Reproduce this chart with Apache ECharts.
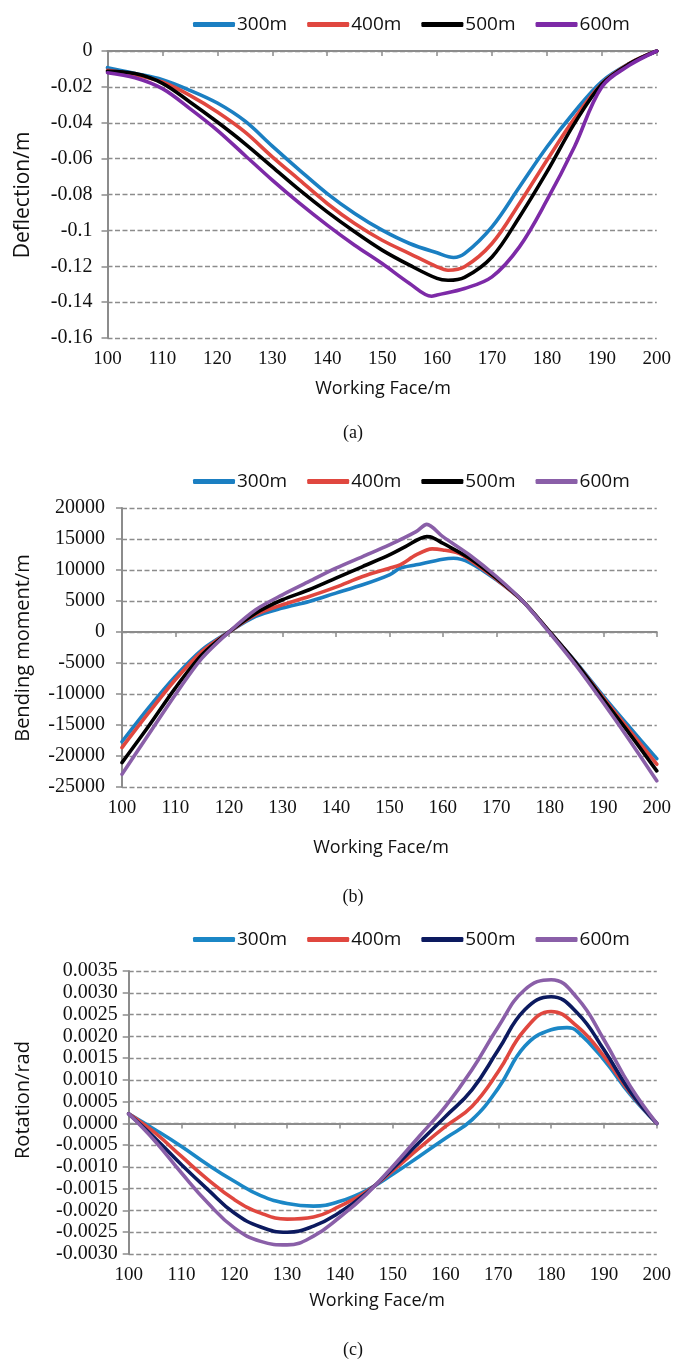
<!DOCTYPE html>
<html>
<head>
<meta charset="utf-8">
<script src="https://cdn.jsdelivr.net/npm/echarts@6/dist/echarts.min.js"></script>
<style>html,body{margin:0;padding:0;background:#fff}#c{width:674px;height:1363px}</style>
</head>
<body>
<div id="c"></div>
<script>
// ---------- DATA ----------
const seriesNames = ['300m', '400m', '500m', '600m'];
const xTicks = [100, 110, 120, 130, 140, 150, 160, 170, 180, 190, 200];

// (a) Deflection / m  — [working face m, deflection m]
const defl300 = [[100,-0.0093],[105,-0.0125],[110,-0.0160],[115,-0.0219],[120,-0.0290],[125,-0.0390],[130,-0.0530],[135,-0.0665],[140,-0.0795],[145,-0.0906],[150,-0.0999],[155,-0.1073],[160,-0.1125],[163,-0.1151],[165,-0.1130],[170,-0.0980],[175,-0.0758],[180,-0.0535],[185,-0.0340],[190,-0.0170],[195,-0.0070],[200,0]];
const defl400 = [[100,-0.0108],[105,-0.0132],[110,-0.0173],[115,-0.0247],[120,-0.0340],[125,-0.0451],[130,-0.0590],[135,-0.0720],[140,-0.0850],[145,-0.0962],[150,-0.1055],[155,-0.1129],[160,-0.1203],[162,-0.1222],[165,-0.1203],[170,-0.1073],[175,-0.0850],[180,-0.0609],[185,-0.0377],[190,-0.0182],[195,-0.0070],[200,0]];
const defl500 = [[100,-0.0113],[105,-0.0126],[110,-0.0180],[115,-0.0284],[120,-0.0396],[125,-0.0516],[130,-0.0646],[135,-0.0776],[140,-0.0897],[145,-0.1008],[150,-0.1110],[155,-0.1194],[160,-0.1268],[162,-0.1278],[165,-0.1262],[170,-0.1148],[175,-0.0925],[180,-0.0674],[185,-0.0405],[190,-0.0185],[195,-0.0072],[200,0]];
const defl600 = [[100,-0.0121],[105,-0.0149],[110,-0.0210],[115,-0.0321],[120,-0.0442],[125,-0.0581],[130,-0.0720],[135,-0.0850],[140,-0.0971],[145,-0.1083],[150,-0.1185],[155,-0.1296],[159,-0.1367],[160,-0.1360],[165,-0.1324],[170,-0.1259],[175,-0.1092],[180,-0.0832],[185,-0.0535],[190,-0.0200],[195,-0.0080],[200,0]];

// (b) Bending moment / m
const mom300 = [[100,-17700],[105,-12200],[110,-7130],[115,-2840],[120,0],[125,2520],[130,3860],[135,4930],[140,6270],[145,7610],[150,9220],[152,10290],[155,10830],[160,11740],[162,11900],[165,11200],[170,8410],[175,4930],[180,0],[185,-5000],[190,-10340],[195,-15430],[200,-20420]];
const mom400 = [[100,-18650],[105,-13020],[110,-7660],[115,-3110],[120,0],[125,2790],[130,4390],[135,5730],[140,7230],[145,8950],[150,10290],[152,10830],[155,12430],[158,13400],[160,13240],[163,12700],[165,11630],[170,8520],[175,4930],[180,0],[185,-5100],[190,-10610],[195,-15970],[200,-21330]];
const mom500 = [[100,-21060],[105,-15160],[110,-9000],[115,-3640],[120,0],[125,3050],[130,5200],[135,6810],[140,8680],[145,10560],[150,12430],[153,13770],[157,15380],[158,15270],[160,14310],[165,11900],[170,8680],[175,4930],[180,0],[185,-5100],[190,-10880],[195,-16500],[200,-22400]];
const mom600 = [[100,-22940],[105,-16500],[110,-10070],[115,-4180],[120,0],[125,3590],[130,6000],[135,8150],[140,10290],[145,12160],[150,14040],[155,16180],[157,17360],[160,15380],[165,12430],[170,8950],[175,4930],[180,-160],[185,-5520],[190,-11420],[195,-17580],[200,-24010]];

// (c) Rotation / rad
const rot300 = [[100,0.00022],[105,-0.000145],[110,-0.00053],[115,-0.00095],[120,-0.00133],[125,-0.00166],[130,-0.00184],[135,-0.0019],[140,-0.00179],[145,-0.00154],[150,-0.00117],[155,-0.00076],[160,-0.00034],[165,0.00008],[170,0.00081],[175,0.00177],[180,0.00215],[183,0.0022],[185,0.00211],[190,0.00146],[195,0.00066],[200,0]];
const rot400 = [[100,0.00022],[105,-0.00022],[110,-0.00076],[115,-0.00129],[120,-0.00175],[125,-0.00206],[130,-0.0022],[135,-0.00215],[140,-0.0019],[145,-0.00157],[150,-0.00109],[155,-0.00057],[160,-0.00007],[165,0.00039],[170,0.00119],[175,0.00215],[180,0.00257],[185,0.00222],[190,0.00154],[195,0.0007],[200,0]];
const rot500 = [[100,0.00022],[105,-0.00034],[110,-0.00095],[115,-0.00152],[120,-0.00206],[125,-0.00238],[130,-0.0025],[135,-0.00236],[140,-0.00204],[145,-0.0016],[150,-0.00104],[155,-0.00044],[160,0.00016],[165,0.00077],[170,0.00169],[175,0.00261],[180,0.00291],[185,0.00253],[190,0.00169],[195,0.00073],[200,0]];
const rot600 = [[100,0.00022],[105,-0.00041],[110,-0.00114],[115,-0.00183],[120,-0.0024],[125,-0.00271],[130,-0.00279],[135,-0.00259],[140,-0.00215],[145,-0.00163],[150,-0.00099],[155,-0.0003],[160,0.00039],[165,0.00123],[170,0.00222],[175,0.00307],[180,0.0033],[185,0.00287],[190,0.00192],[195,0.00085],[200,0]];

// ---------- STYLE ----------
const colA = ['#1b7fc2', '#e0473f', '#000000', '#7d2aa7'];
const colB = ['#1b7fc2', '#e0473f', '#000000', '#8a5fa8'];
const colC = ['#1b87c6', '#e0473f', '#0c1a5f', '#8a5fa8'];
const gridC = '#8c8c8c';
const serif = '"Liberation Serif", "Times New Roman", serif';
const sans = '"Open Sans", "Noto Sans", sans-serif';

const grids = [
  {left: 107.5, width: 554, top: 51, height: 287},
  {left: 122, width: 536, top: 508, height: 279},
  {left: 128.7, width: 536, top: 971, height: 283}
];

function xAx(i) {
  return {
    type: 'value', gridIndex: i, min: 100, max: 200, interval: 10,
    axisLine: {show: true, lineStyle: {color: gridC, width: 2}},
    axisTick: {show: true, length: 5, lineStyle: {color: gridC, width: 1.5}},
    axisLabel: {color: '#111', fontFamily: serif, fontSize: 19, margin: 12},
    splitLine: {show: false}
  };
}
function yAx(i, min, max, interval, fmt, margin, fs) {
  return {
    type: 'value', gridIndex: i, min: min, max: max, interval: interval,
    axisLine: {show: true, onZero: false, lineStyle: {color: gridC, width: 2}},
    axisTick: {show: true, length: 6, lineStyle: {color: gridC, width: 1.5}},
    axisLabel: {color: '#111', fontFamily: serif, fontSize: fs, margin: margin, formatter: fmt},
    splitLine: {show: true, lineStyle: {color: gridC, width: 1.3, type: [5, 2.5]}}
  };
}
function mkSeries(data, cols, idx, sm) {
  return data.map((d, k) => ({
    name: seriesNames[k], type: 'line', xAxisIndex: idx, yAxisIndex: idx,
    data: d, showSymbol: false, symbol: 'none', smooth: sm,
    lineStyle: {color: cols[k], width: 3.6, cap: 'round', join: 'round'},
    itemStyle: {color: cols[k]}, z: 3 + k
  }));
}
function legend(top, cols) {
  return {
    left: 188, top: top, orient: 'horizontal', icon: 'roundRect',
    itemWidth: 42, itemHeight: 5, itemGap: 20,
    textStyle: {fontFamily: sans, fontSize: 19, color: '#111', padding: [0, 0, 0, -3]},
    data: seriesNames.map((n, k) => ({name: n, itemStyle: {color: cols[k]}})),
    selectedMode: false
  };
}

const fmtA = v => (Math.abs(v) < 1e-9 ? '0' : String(+v.toFixed(2)));
const fmtB = v => String(Math.round(v));
const fmtC = v => (Math.abs(v) < 1e-9 ? '0.0000' : v.toFixed(4));

const chart = echarts.init(document.getElementById('c'), null, {renderer: 'canvas'});

const sA = mkSeries([defl300, defl400, defl500, defl600], colA, 0, 0.35);
const sB = mkSeries([mom300, mom400, mom500, mom600], colB, 1, 0.3);
const sC = mkSeries([rot300, rot400, rot500, rot600], colC, 2, 0.45);

function titleText(txt, x, y, rot, font) {
  return {type: 'text', x: x, y: y, rotation: rot || 0,
    style: {text: txt, font: font, fill: '#111', textAlign: 'center', textVerticalAlign: 'middle'}};
}

chart.setOption({
  backgroundColor: '#fff',
  animation: false,
  grid: grids,
  xAxis: [xAx(0), xAx(1), xAx(2)],
  yAxis: [
    yAx(0, -0.16, 0, 0.02, fmtA, 15, 20),
    yAx(1, -25000, 20000, 5000, fmtB, 17, 20),
    yAx(2, -0.003, 0.0035, 0.0005, fmtC, 11, 20)
  ],
  legend: [legend(10, colA), legend(467, colB), legend(925, colC)],
  series: [].concat(sA, sB, sC),
  graphic: [
    titleText('Deflection/m', 23, 195, Math.PI / 2, '21px ' + sans),
    titleText('Bending moment/m', 23, 648, Math.PI / 2, '20px ' + sans),
    titleText('Rotation/rad', 23, 1100, Math.PI / 2, '20px ' + sans),
    titleText('Working Face/m', 383, 389, 0, '18px ' + sans),
    titleText('Working Face/m', 381, 848, 0, '18px ' + sans),
    titleText('Working Face/m', 377, 1301, 0, '18px ' + sans),
    titleText('(a)', 353, 433, 0, '18px ' + serif),
    titleText('(b)', 353, 897, 0, '18px ' + serif),
    titleText('(c)', 353, 1350, 0, '18px ' + serif)
  ]
});
</script>
</body>
</html>
